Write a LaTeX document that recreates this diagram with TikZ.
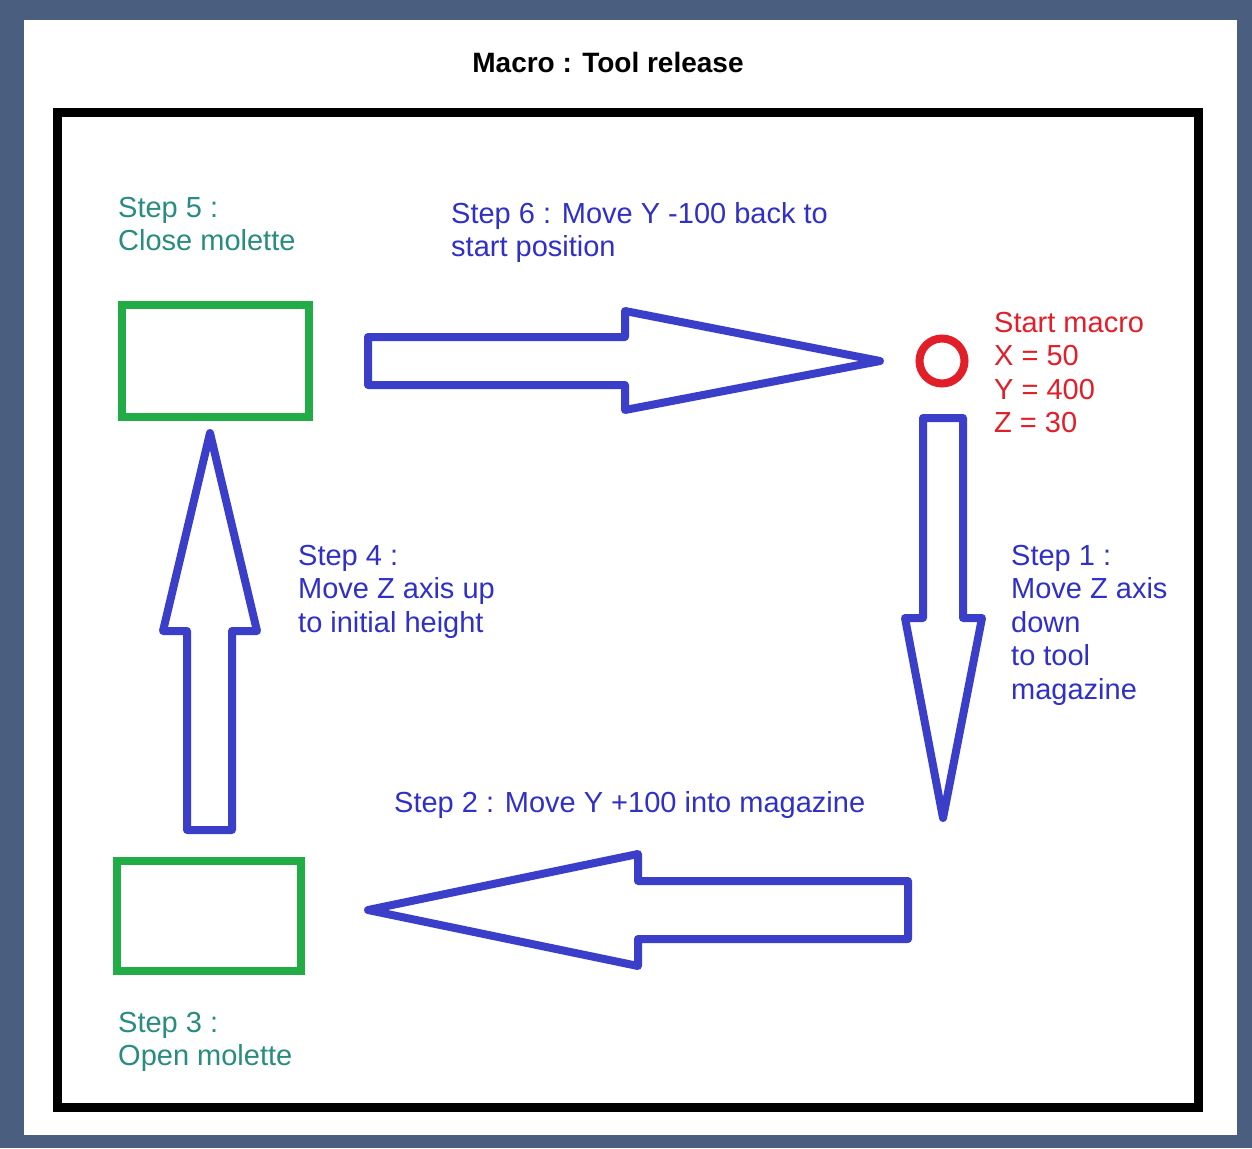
\documentclass[tikz,border=0pt]{standalone}
\usepackage{fontspec}
\setmainfont{Liberation Sans}
\definecolor{framec}{RGB}{74,94,128}
\definecolor{arrowblue}{RGB}{58,62,200}
\definecolor{textblue}{RGB}{48,48,200}
\definecolor{tealtext}{RGB}{40,140,128}
\definecolor{boxgreen}{RGB}{34,172,70}
\definecolor{startred}{RGB}{226,30,40}
\begin{document}
\begin{tikzpicture}[x=1pt,y=-1pt,
  blockarrow/.style={draw=arrowblue,line width=8pt,line join=round,line cap=round},
  greenbox/.style={draw=boxgreen,line width=8.5pt,minimum width=187pt,minimum height=112pt,inner sep=0pt},
  lbl/.style={anchor=base west,align=left,inner sep=0pt,font=\fontsize{29}{33.5}\selectfont},
  bluelbl/.style={lbl,text=textblue},
  teallbl/.style={lbl,text=tealtext},
  redlbl/.style={lbl,text=startred}]
\useasboundingbox (0,0) rectangle (1252,1148);
\fill[framec] (0,0) rectangle (1252,1148);
\fill[white] (24,20) rectangle (1237,1135);
\draw[line width=9pt] (57,112) rectangle (1198,1107);
\node[anchor=base,inner sep=0pt,font=\fontsize{28}{32}\selectfont\bfseries] (title) at (608,72) {Macro : Tool release};
% boxes and start point
\node[greenbox] (box5) at (215.5,361) {};
\node[greenbox,minimum width=184pt,minimum height=110pt] (box3) at (209,916) {};
\node[circle,draw=startred,line width=8pt,minimum size=45pt,inner sep=0pt] (start) at (942,361) {};
% block arrows
\draw[blockarrow] (368,337) -- (625,337) -- (625,311) -- (880,361) -- (625,410) -- (625,385) -- (368,385) -- cycle;
\draw[blockarrow] (923,418) -- (963,418) -- (963,618) -- (982,618) -- (943,818) -- (905,618) -- (923,618) -- cycle;
\draw[blockarrow] (908,881) -- (638,881) -- (638,854) -- (368,910) -- (638,966) -- (638,939) -- (908,939) -- cycle;
\draw[blockarrow] (187,830) -- (232,830) -- (232,631) -- (257,631) -- (210,433) -- (163,631) -- (187,631) -- cycle;
% labels (anchored at the baseline of their last line)
\node[teallbl] (l5) at (118,250.5) {Step 5 :\\Close molette};
\node[bluelbl] (l6) at (451,256.5) {Step 6 : Move Y -100 back to\\start position};
\node[redlbl] (ls) at (994,432.5) {Start macro\\X = 50\\Y = 400\\Z = 30};
\node[bluelbl] (l4) at (298,632) {Step 4 :\\Move Z axis up\\to initial height};
\node[bluelbl] (l1) at (1011,699) {Step 1 :\\Move Z axis\\down\\to tool\\magazine};
\node[bluelbl] (l2) at (394,812) {Step 2 : Move Y +100 into magazine};
\node[teallbl] (l3) at (118,1065.5) {Step 3 :\\Open molette};
\end{tikzpicture}
\end{document}
